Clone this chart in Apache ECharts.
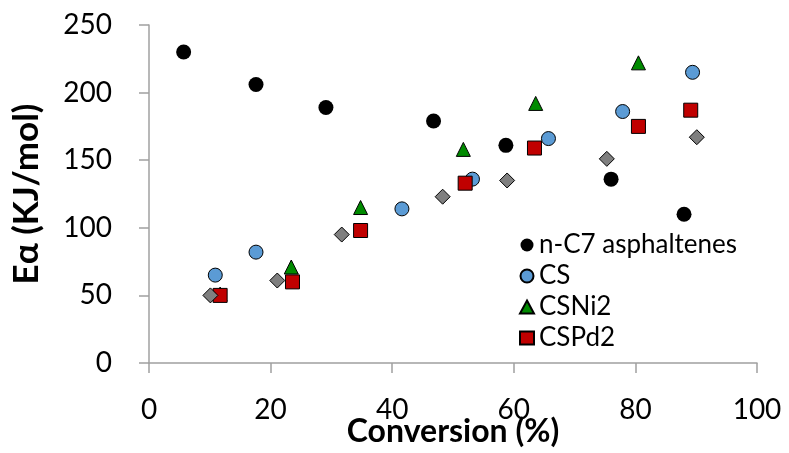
<!DOCTYPE html>
<html>
<head>
<meta charset="utf-8">
<script src="https://cdn.jsdelivr.net/npm/echarts@6/dist/echarts.min.js"></script>
<style>
  html, body { margin: 0; padding: 0; background: #fff; }
  #chart { width: 789px; height: 453px; }
</style>
</head>
<body>
<div id="chart"></div>
<script>
// Activation energy vs. conversion for each sample
const seriesNames = ['n-C7 asphaltenes', 'CS', 'CSNi2', 'CSPd2', ''];

const asphConv = [5.7, 17.6, 29.1, 46.8, 58.7, 76.0, 88.0];
const asphEa   = [230, 206, 189, 179, 161, 136, 110];

const csConv = [10.9, 17.6, 41.6, 53.2, 65.7, 77.9, 89.4];
const csEa   = [65, 82, 114, 136, 166, 186, 215];

const csni2Conv = [11.7, 23.4, 34.8, 51.7, 63.6, 80.5];
const csni2Ea   = [51, 71, 115, 158, 192, 222];

const cspd2Conv = [11.7, 23.6, 34.8, 52.0, 63.4, 80.5, 89.1];
const cspd2Ea   = [50, 60, 98, 133, 159, 175, 187];

const extraConv = [10.1, 21.1, 31.7, 48.3, 58.9, 75.3, 90.1];
const extraEa   = [50, 61, 95, 123, 135, 151, 167];

const xTicks = [0, 20, 40, 60, 80, 100];
const yTicks = [0, 50, 100, 150, 200, 250];

const pair = (xs, ys) => xs.map((x, i) => [x, ys[i]]);

const FONT = 'Lato';
const axisGray = '#a0a0a0';

const chart = echarts.init(document.getElementById('chart'), null, { renderer: 'canvas' });

function scatter(name, data, symbol, size, color, border, z) {
  return {
    name: name,
    type: 'scatter',
    data: data,
    symbol: symbol,
    symbolSize: size,
    z: z,
    itemStyle: { color: color, borderColor: border ? '#000' : color, borderWidth: border ? 1 : 0, opacity: 1 },
    emphasis: { disabled: true }
  };
}

chart.setOption({
  animation: false,
  backgroundColor: '#fff',
  textStyle: { fontFamily: FONT },
  grid: { left: 149, right: 32, top: 25, bottom: 90, outerBoundsMode: 'none', containLabel: false },
  legend: {
    data: seriesNames.slice(0, 4),
    orient: 'vertical',
    left: 514,
    top: 227,
    itemGap: 5,
    itemWidth: 14,
    itemHeight: 13,
    textStyle: { fontFamily: FONT, fontSize: 26, color: '#000', padding: [0, 0, 0, 0] }
  },
  xAxis: {
    type: 'value',
    min: xTicks[0],
    max: xTicks[xTicks.length - 1],
    interval: 20,
    name: 'Conversion (%)',
    nameLocation: 'middle',
    nameGap: 53,
    nameMoveOverlap: false,
    nameTextStyle: { fontFamily: FONT, fontSize: 32, fontWeight: 'bold', color: '#000' },
    axisLine: { show: true, lineStyle: { color: axisGray, width: 1.5 } },
    axisTick: { show: true, inside: false, length: 10, lineStyle: { color: axisGray, width: 1.5 } },
    axisLabel: { fontFamily: FONT, fontSize: 28, color: '#000', margin: 33 },
    splitLine: { show: false }
  },
  yAxis: {
    type: 'value',
    min: yTicks[0],
    max: yTicks[yTicks.length - 1],
    interval: 50,
    name: 'Eα (KJ/mol)',
    nameLocation: 'middle',
    nameGap: 105,
    nameMoveOverlap: false,
    nameTextStyle: { fontFamily: FONT, fontSize: 35, fontWeight: 'bold', color: '#000' },
    axisLine: { show: true, lineStyle: { color: axisGray, width: 1.5 } },
    axisTick: { show: true, inside: false, length: 10, lineStyle: { color: axisGray, width: 1.5 } },
    axisLabel: { fontFamily: FONT, fontSize: 28, color: '#000', margin: 37 },
    splitLine: { show: false }
  },
  series: [
    scatter(seriesNames[0], pair(asphConv, asphEa), 'circle', 15, '#000000', false, 5),
    scatter(seriesNames[1], pair(csConv, csEa), 'circle', 14, '#5b9bd5', true, 4),
    scatter(seriesNames[2], pair(csni2Conv, csni2Ea), 'triangle', 14, '#008a00', true, 3),
    scatter(seriesNames[3], pair(cspd2Conv, cspd2Ea), 'rect', 14, '#c00000', true, 6),
    scatter(seriesNames[4], pair(extraConv, extraEa), 'diamond', 15, '#7f7f7f', true, 7)
  ]
});
</script>
</body>
</html>
